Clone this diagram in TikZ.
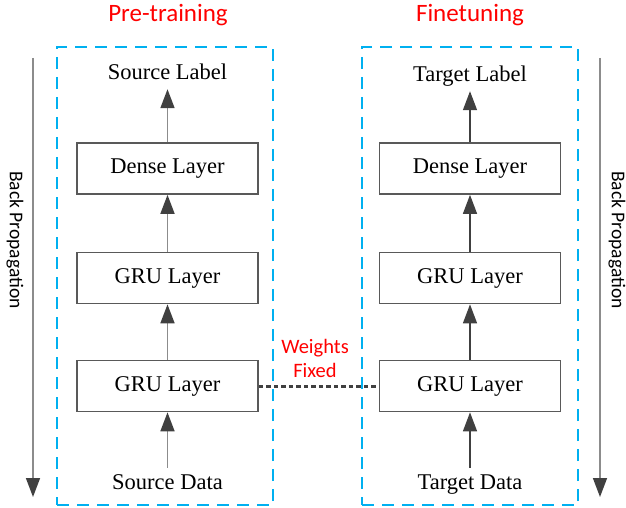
\documentclass[tikz,border=0pt]{standalone}
\usepackage{fontspec}
\setmainfont{Liberation Serif}
\newfontfamily\calib{Carlito}
\usetikzlibrary{arrows.meta}
\definecolor{cyanb}{HTML}{00B0F0}
\definecolor{dgray}{HTML}{404040}
\definecolor{bgray}{HTML}{595959}
\definecolor{lgray}{HTML}{8C8C8C}
\tikzset{
  layerbox/.style={draw=bgray, line width=1.7pt, minimum width=181pt, minimum height=51pt, inner sep=0pt, font=\fontsize{22.5}{26}\selectfont},
  lbl/.style={inner sep=4pt, text height=15pt, text depth=5pt, font=\fontsize{22.5}{26}\selectfont},
  region/.style={draw=cyanb, line width=2.2pt, dash pattern=on 12pt off 8pt},
  tip/.style={-{Triangle[length=19pt,width=14pt,fill=dgray,color=dgray]}},
  upl/.style={draw=lgray, line width=1.7pt, tip},
  upr/.style={draw=dgray, line width=1.4pt, tip},
  bp/.style={draw=lgray, line width=1.5pt, tip},
  redt/.style={text=red, font=\calib\fontsize{25}{28}\selectfont},
  bptext/.style={font=\calib\fontsize{19.5}{22}\selectfont, rotate=-90},
}
\begin{document}
\begin{tikzpicture}[x=1pt,y=-1pt]
\useasboundingbox (0,0) rectangle (626,508);
% regions
\node[region, minimum width=216pt, minimum height=458pt, inner sep=0pt] (regl) at (165,276) {};
\node[region, minimum width=216pt, minimum height=458pt, inner sep=0pt] (regr) at (470,276) {};
\node[redt] (tl) at (168,15) {Pre-training};
\node[redt] (tr) at (470,15) {Finetuning};
% left stack
\node[lbl] (sl) at (167.5,75) {Source Label};
\node[layerbox] (dl) at (167.5,168.5) {Dense Layer};
\node[layerbox] (g2l) at (167.5,278) {GRU Layer};
\node[layerbox] (g1l) at (167.5,386) {GRU Layer};
\node[lbl, inner sep=6pt] (sd) at (167.5,484) {Source Data};
% right stack
\node[lbl] (tlab) at (470,77) {Target Label};
\node[layerbox] (dr) at (470,168.5) {Dense Layer};
\node[layerbox] (g2r) at (470,278) {GRU Layer};
\node[layerbox] (g1r) at (470,386) {GRU Layer};
\node[lbl, inner sep=6pt] (td) at (470,484) {Target Data};
% arrows
\draw[upl] (sd) -- (g1l);
\draw[upl] (g1l) -- (g2l);
\draw[upl] (g2l) -- (dl);
\draw[upl] (dl) -- (sl);
\draw[upr] (td) -- (g1r);
\draw[upr] (g1r) -- (g2r);
\draw[upr] (g2r) -- (dr);
\draw[upr] (dr) -- (tlab);
% weights fixed
\draw[dgray, line width=3pt, dash pattern=on 4.5pt off 3pt] (g1l.east) -- (g1r.west);
\node[redt, font=\calib\fontsize{20.5}{24}\selectfont, align=center] (wf) at (315,358) {Weights\\Fixed};
% back propagation
\coordinate (bl1) at (33,58);
\coordinate (bl2) at (33,497);
\coordinate (br1) at (600,58);
\coordinate (br2) at (600,497);
\draw[bp] (bl1) -- (bl2);
\draw[bp] (br1) -- (br2);
\node[bptext] (bpl) at (15,240) {Back Propagation};
\node[bptext] (bpr) at (617,240) {Back Propagation};
\end{tikzpicture}
\end{document}
